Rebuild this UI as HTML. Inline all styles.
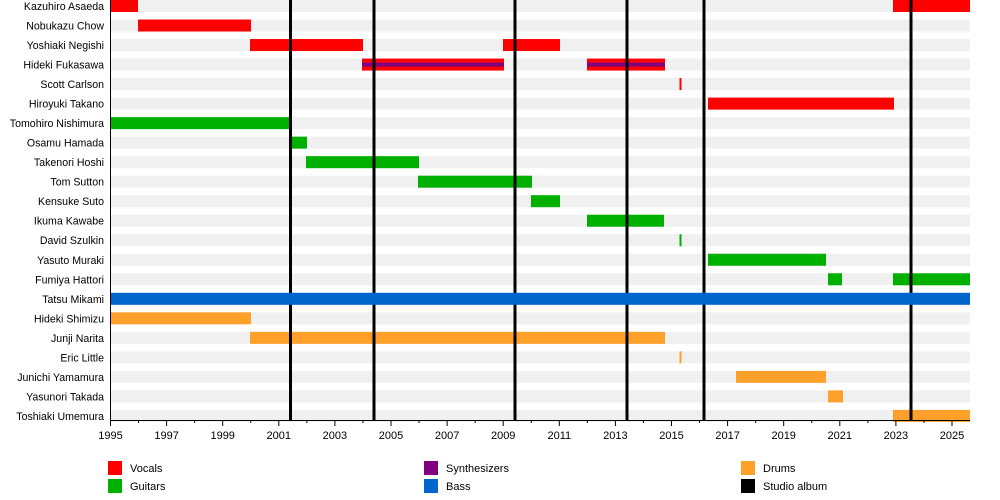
<!DOCTYPE html>
<html><head><meta charset="utf-8"><style>
html,body{margin:0;padding:0;background:#fff;}
svg{display:block;font-family:"Liberation Sans",sans-serif;}
</style></head><body>
<svg width="1000" height="500" viewBox="0 0 1000 500" xmlns="http://www.w3.org/2000/svg">
<g id="bands" fill="#f0f0f0"></g>
<g id="bars"></g>
<g id="albums" fill="#000"></g>
<g id="top"></g>
<g id="labels" font-size="10.6" text-anchor="end" fill="#000"></g>
<g id="axis"></g>
<g font-size="11" fill="#000">
<rect x="108" y="461" width="14" height="14" fill="#ff0000"/><text x="130" y="472">Vocals</text>
<rect x="108" y="479" width="14" height="14" fill="#00b000"/><text x="130" y="490">Guitars</text>
<rect x="424" y="461" width="14" height="14" fill="#800080"/><text x="446" y="472">Synthesizers</text>
<rect x="424" y="479" width="14" height="14" fill="#0066cc"/><text x="446" y="490">Bass</text>
<rect x="741" y="461" width="14" height="14" fill="#ffa02b"/><text x="763" y="472">Drums</text>
<rect x="741" y="479" width="14" height="14" fill="#000"/><text x="763" y="490">Studio album</text>
</g>
</svg>
<script>
var NS="http://www.w3.org/2000/svg";
function el(p,t,a,txt){var e=document.createElementNS(NS,t);for(var k in a)e.setAttribute(k,a[k]);if(txt)e.textContent=txt;document.getElementById(p).appendChild(e);return e;}
var R="#ff0000",G="#00b000",B="#0066cc",O="#ffa02b";
var rows=[
["Kazuhiro Asaeda",[[110,138,R],[893,970,R]]],
["Nobukazu Chow",[[138,251,R]]],
["Yoshiaki Negishi",[[250,363,R],[503,560,R]]],
["Hideki Fukasawa",[[362,504,R,1],[587,665,R,1]]],
["Scott Carlson",[[679.5,681.5,R]]],
["Hiroyuki Takano",[[708,894,R]]],
["Tomohiro Nishimura",[[110,291,G]]],
["Osamu Hamada",[[291,307,G]]],
["Takenori Hoshi",[[306,419,G]]],
["Tom Sutton",[[418,532,G]]],
["Kensuke Suto",[[531,560,G]]],
["Ikuma Kawabe",[[587,664,G]]],
["David Szulkin",[[679.5,681.5,G]]],
["Yasuto Muraki",[[708,826,G]]],
["Fumiya Hattori",[[828,842,G],[893,970,G]]],
["Tatsu Mikami",[[110,970,B]]],
["Hideki Shimizu",[[110,251,O]]],
["Junji Narita",[[250,665,O]]],
["Eric Little",[[679.5,681.5,O]]],
["Junichi Yamamura",[[736,826,O]]],
["Yasunori Takada",[[828,843,O]]],
["Toshiaki Umemura",[[893,970,O]]]];
rows.forEach(function(r,i){
 var c=6+i*19.52, y=c-6;
 el("bands","rect",{x:111,y:y,width:859,height:12});
 el("labels","text",{x:104,y:c+4},r[0]);
 r[1].forEach(function(b){
  var g=(i==15)?"top":"bars";
  el(g,"rect",{x:b[0],y:y,width:b[1]-b[0],height:12,fill:b[2]});
  if(b[3])el(g,"rect",{x:b[0],y:c-2,width:b[1]-b[0],height:4,fill:"#800080"});
 });
});
[290.5,374,515,627,704,911].forEach(function(x){el("albums","rect",{x:x-1.5,y:0,width:3,height:420});});
el("axis","rect",{x:110,y:0,width:1,height:421,fill:"#000"});
el("axis","rect",{x:110,y:420,width:860,height:1,fill:"#000"});
for(var yr=1995;yr<=2025;yr++){
 var x=110.5+(yr-1995)*28.05;
 var odd=(yr%2==1);
 el("axis","rect",{x:x-0.5,y:420,width:1,height:odd?6:3,fill:"#000"});
 if(odd)el("axis","text",{x:x,y:439,"font-size":11,"text-anchor":"middle",fill:"#000"},String(yr));
}
</script>
</body></html>
